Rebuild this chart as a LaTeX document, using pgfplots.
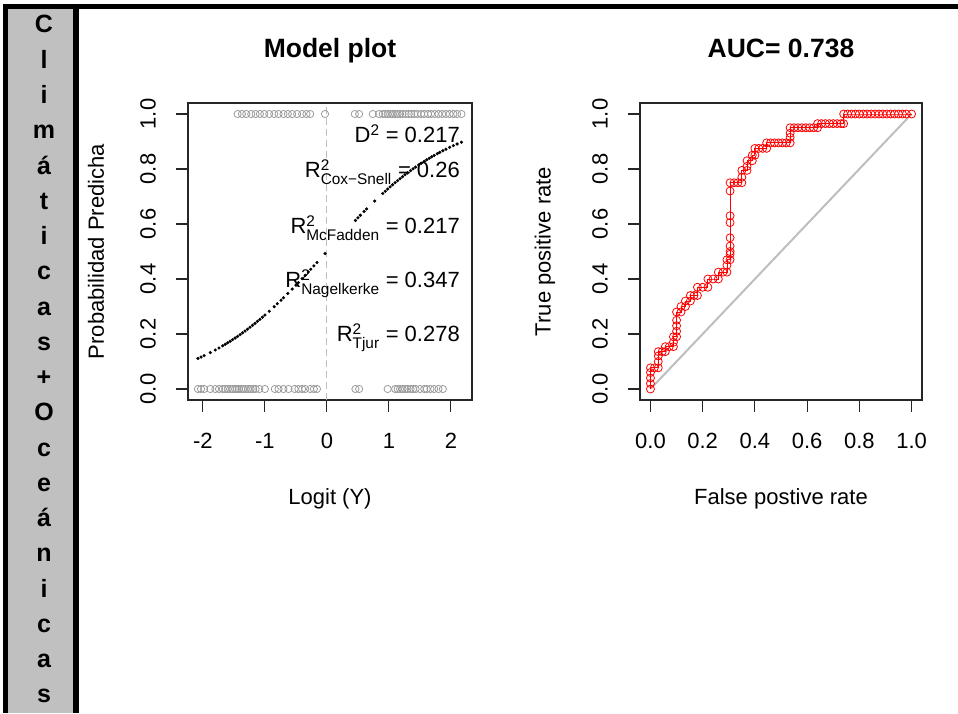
\documentclass[border=0pt]{standalone}
\usepackage{fontspec}
\setmainfont{Liberation Sans}
\usepackage{amsmath}
\usepackage{pgfplots}
\pgfplotsset{compat=1.18}
\definecolor{rgrey}{RGB}{190,190,190}
\definecolor{silverc}{RGB}{192,192,192}
\definecolor{ptgrey}{RGB}{155,155,155}

\pgfplotsset{
  rstyle/.style={
    scale only axis,
    anchor=south west,
    ymin=-0.04, ymax=1.04,
    axis line style={line width=1.1pt, black!85},
    tick align=outside, major tick length=12pt,
    tick style={black!85, line width=1.1pt},
    xtick pos=left, ytick pos=left,
    tick label style={font=\fontsize{22}{26}\selectfont},
    ytick={0,0.2,0.4,0.6,0.8,1},
    yticklabels={0.0,0.2,0.4,0.6,0.8,1.0},
    yticklabel style={xshift=-28pt, rotate=90, anchor=center},
    xticklabel style={yshift=-29pt, anchor=center},
    label style={font=\fontsize{22}{26}\selectfont},
    title style={font=\bfseries\fontsize{26.5}{30}\selectfont, anchor=base},
  }
}

\begin{document}
\begin{tikzpicture}
\useasboundingbox (0pt,0pt) rectangle (958pt,713pt);
% left strip
\fill[silverc] (8pt,0pt) rectangle (73pt,704pt);
\fill[black] (3pt,0pt) rectangle (8pt,708.5pt);
\fill[black] (73pt,0pt) rectangle (78.5pt,704pt);
\fill[black] (3pt,704pt) rectangle (958pt,708.5pt);
\foreach \c [count=\i from 0] in {C,l,i,m,á,t,i,c,a,s,+,O,c,e,á,n,i,c,a,s}
  \node[anchor=base, inner sep=0pt, font=\bfseries\fontsize{25}{25}\selectfont] at (44pt,{680pt-35.26pt*\i}) {\c};

% ---------------- Model plot ----------------
\begin{axis}[rstyle,
  at={(188pt,313pt)},
  width=284pt, height=297pt,
  xmin=-2.24, xmax=2.34,
  xtick={-2,-1,0,1,2}, xticklabels={-2,-1,0,1,2},
  title={Model plot},
  title style={at={(axis description cs:0.5,1.134)}},
  xlabel={Logit (Y)},
  xlabel style={at={(axis description cs:0.5,-0.334)}, anchor=center},
  ylabel={Probabilidad Predicha},
  ylabel style={at={(axis description cs:-0.324,0.5)}, anchor=center},
]
\addplot[rgrey, line width=1pt, dash pattern=on 7pt off 4pt] coordinates {(0,-0.04) (0,1.04)};
% observed 0
\addplot[only marks, mark=o, mark size=3.6pt, color=ptgrey, mark options={line width=0.8pt}] coordinates {
(-2.08,0) (-2.03,0) (-1.98,0) (-1.88,0) (-1.80,0) (-1.74,0) (-1.68,0) (-1.64,0) (-1.60,0) (-1.56,0)
(-1.52,0) (-1.48,0) (-1.45,0) (-1.42,0) (-1.38,0) (-1.35,0) (-1.31,0) (-1.27,0) (-1.23,0) (-1.19,0)
(-1.15,0) (-1.09,0) (-1.00,0) (-0.84,0) (-0.78,0) (-0.70,0) (-0.62,0) (-0.52,0) (-0.46,0) (-0.40,0)
(-0.35,0) (-0.27,0) (-0.21,0) (-0.16,0) (0.46,0) (0.52,0) (0.98,0) (1.10,0) (1.14,0) (1.18,0)
(1.22,0) (1.26,0) (1.30,0) (1.35,0) (1.39,0) (1.43,0) (1.50,0) (1.57,0) (1.61,0) (1.67,0)
(1.73,0) (1.80,0) (1.87,0)
};
% observed 1
\addplot[only marks, mark=o, mark size=3.6pt, color=ptgrey, mark options={line width=0.8pt}] coordinates {
(-1.44,1) (-1.37,1) (-1.30,1) (-1.22,1) (-1.15,1) (-1.08,1) (-1.01,1) (-0.93,1) (-0.85,1) (-0.78,1)
(-0.70,1) (-0.63,1) (-0.56,1) (-0.48,1) (-0.40,1) (-0.33,1) (-0.27,1) (-0.03,1) (0.45,1) (0.52,1)
(0.74,1) (0.84,1) (0.90,1) (0.94,1) (0.98,1) (1.02,1) (1.06,1) (1.10,1) (1.14,1) (1.18,1)
(1.22,1) (1.27,1) (1.32,1) (1.36,1) (1.41,1) (1.46,1) (1.52,1) (1.57,1) (1.63,1) (1.68,1)
(1.74,1) (1.80,1) (1.86,1) (1.92,1) (1.98,1) (2.04,1) (2.10,1) (2.17,1)
};
% fitted probabilities
\addplot[only marks, mark=*, mark size=1.4pt, color=black] coordinates {
(-2.08,0.1111) (-2.03,0.1161) (-1.98,0.1213) (-1.88,0.1324) (-1.80,0.1419) (-1.74,0.1493)
(-1.68,0.1571) (-1.64,0.1625) (-1.60,0.1680) (-1.56,0.1736) (-1.52,0.1795) (-1.48,0.1854)
(-1.44,0.1915) (-1.40,0.1978) (-1.36,0.2042) (-1.32,0.2108) (-1.28,0.2175) (-1.24,0.2244)
(-1.20,0.2315) (-1.16,0.2387) (-1.12,0.2460) (-1.08,0.2535) (-1.04,0.2611) (-1.00,0.2689)
(-0.93,0.2829) (-0.85,0.2994) (-0.80,0.3100) (-0.74,0.3230) (-0.70,0.3318) (-0.63,0.3475)
(-0.56,0.3635) (-0.50,0.3775) (-0.46,0.3870) (-0.40,0.4013) (-0.35,0.4134) (-0.30,0.4256)
(-0.26,0.4354) (-0.21,0.4477) (-0.16,0.4601) (-0.03,0.4925) (0.46,0.6130) (0.50,0.6225)
(0.54,0.6318) (0.60,0.6457) (0.64,0.6548) (0.77,0.6835) (0.90,0.7109) (0.94,0.7191)
(0.98,0.7271) (1.02,0.7350) (1.06,0.7427) (1.10,0.7503) (1.14,0.7577) (1.18,0.7649)
(1.22,0.7721) (1.26,0.7790) (1.30,0.7858) (1.35,0.7941) (1.39,0.8006) (1.43,0.8069)
(1.48,0.8146) (1.52,0.8205) (1.57,0.8278) (1.61,0.8334) (1.65,0.8389) (1.69,0.8442)
(1.73,0.8494) (1.78,0.8557) (1.82,0.8606) (1.87,0.8665) (1.92,0.8721) (1.98,0.8787)
(2.04,0.8849) (2.10,0.8909) (2.17,0.8975)
};
\end{axis}

\begin{scope}[every node/.style={anchor=base east, inner sep=0pt, font=\fontsize{22}{26}\selectfont}]
\node at (460pt,570pt) {D$^{\text{2}}$ = 0.217};
\node at (460pt,535pt) {R$^{\text{2}}_{\text{Cox−Snell}}$ = 0.26};
\node at (460pt,479pt) {R$^{\text{2}}_{\text{McFadden}}$ = 0.217};
\node at (460pt,425pt) {R$^{\text{2}}_{\text{Nagelkerke}}$ = 0.347};
\node at (460pt,371pt) {R$^{\text{2}}_{\text{Tjur}}$ = 0.278};
\end{scope}

% ---------------- ROC ----------------
\begin{axis}[rstyle,
  at={(640pt,313pt)},
  width=282pt, height=297pt,
  xmin=-0.04, xmax=1.04,
  xtick={0,0.2,0.4,0.6,0.8,1}, xticklabels={0.0,0.2,0.4,0.6,0.8,1.0},
  title={AUC= 0.738},
  title style={at={(axis description cs:0.5,1.134)}},
  xlabel={False postive rate},
  xlabel style={at={(axis description cs:0.5,-0.334)}, anchor=center},
  ylabel={True positive rate},
  ylabel style={at={(axis description cs:-0.337,0.5)}, anchor=center},
]
\addplot[rgrey, line width=2pt] coordinates {(0,0) (1,1)};
\addplot[red, line width=0.9pt, mark=o, mark size=4pt, mark options={line width=0.8pt}] coordinates {
(0,0) (0,0.02) (0,0.04) (0,0.06) (0,0.077) (0.015,0.077) (0.03,0.077) (0.03,0.10) (0.03,0.12)
(0.03,0.136) (0.045,0.136) (0.057,0.136) (0.057,0.154) (0.072,0.154) (0.088,0.154) (0.088,0.17)
(0.088,0.19) (0.10,0.19) (0.10,0.21) (0.10,0.23) (0.10,0.25) (0.10,0.28) (0.117,0.28) (0.117,0.30)
(0.134,0.30) (0.134,0.32) (0.153,0.32) (0.153,0.34) (0.167,0.34) (0.18,0.34) (0.18,0.37) (0.20,0.37)
(0.22,0.37) (0.22,0.40) (0.24,0.40) (0.26,0.40) (0.26,0.425) (0.278,0.425) (0.293,0.425) (0.293,0.45)
(0.293,0.47) (0.305,0.47) (0.305,0.49) (0.305,0.50) (0.305,0.52) (0.305,0.55) (0.305,0.605)
(0.305,0.63) (0.305,0.72) (0.305,0.75) (0.32,0.75) (0.335,0.75) (0.35,0.75) (0.35,0.77) (0.35,0.795)
(0.37,0.795) (0.37,0.81) (0.37,0.83) (0.39,0.83) (0.39,0.85) (0.40,0.85) (0.40,0.875) (0.415,0.875)
(0.43,0.875) (0.445,0.875) (0.445,0.895) (0.46,0.895) (0.475,0.895) (0.49,0.895) (0.505,0.895)
(0.52,0.895) (0.535,0.895) (0.535,0.915) (0.535,0.93) (0.535,0.95) (0.55,0.95) (0.565,0.95)
(0.58,0.95) (0.595,0.95) (0.61,0.95) (0.625,0.95) (0.64,0.95) (0.64,0.965) (0.655,0.965)
(0.67,0.965) (0.685,0.965) (0.70,0.965) (0.715,0.965) (0.73,0.965) (0.74,0.965) (0.74,1.0)
(0.755,1.0) (0.77,1.0) (0.785,1.0) (0.80,1.0) (0.815,1.0) (0.83,1.0) (0.845,1.0) (0.86,1.0)
(0.875,1.0) (0.89,1.0) (0.905,1.0) (0.92,1.0) (0.935,1.0) (0.95,1.0) (0.965,1.0) (0.98,1.0) (1.0,1.0)
};
\end{axis}
\end{tikzpicture}
\end{document}
